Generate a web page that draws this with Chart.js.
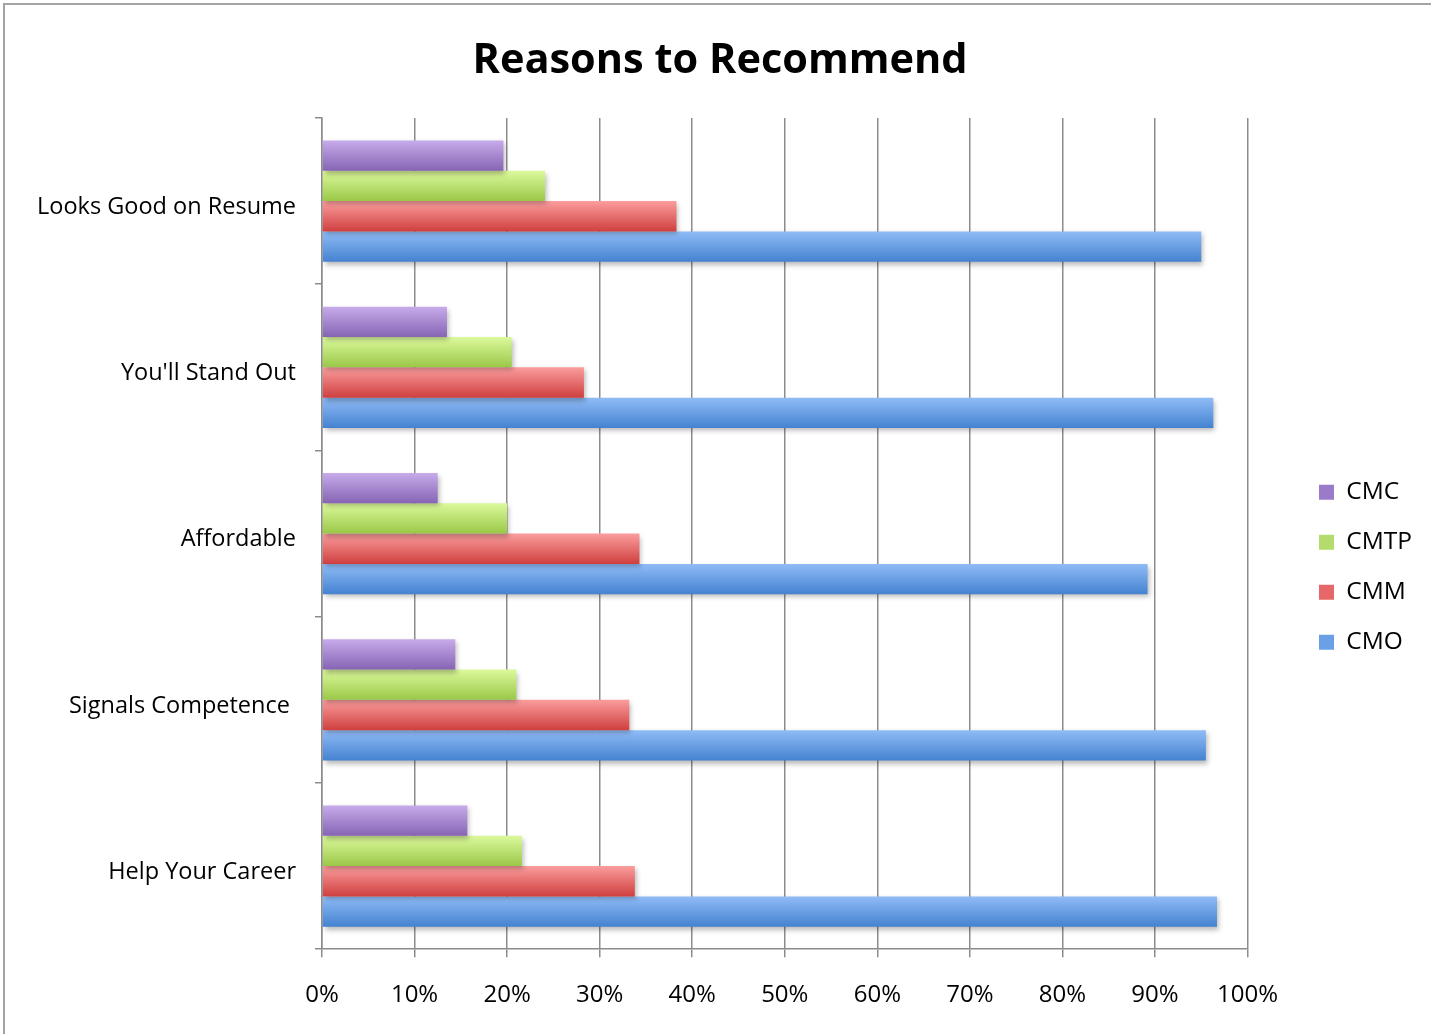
<!DOCTYPE html>
<html lang="en">
<head>
  <meta charset="UTF-8" />
  <title>Reasons to Recommend</title>
  <script src="https://cdn.jsdelivr.net/npm/chart.js"></script>
  <style>
    * { margin: 0; padding: 0; box-sizing: border-box; }
    body { background: #fff; width: 1431px; height: 1034px; overflow: hidden; position: relative; }
    .frame {
      position: absolute; left: 3px; top: 3px; right: 0; bottom: 0;
      border-top: 2px solid #a3a3a3; border-left: 2px solid #a3a3a3;
    }
    #chartBox { position: absolute; left: 0; top: 0; width: 1431px; height: 1034px; }
  </style>
</head>
<body>
  <div class="frame"></div>
  <div id="chartBox"><canvas id="reasonsChart"></canvas></div>

  <script>
    const categories = ['Looks Good on Resume', "You'll Stand Out", 'Affordable', 'Signals Competence ', 'Help Your Career'];
    const cmc  = [19.6, 13.5, 12.5, 14.4, 15.7];
    const cmtp = [24.1, 20.5, 20.0, 21.0, 21.6];
    const cmm  = [38.3, 28.3, 34.3, 33.2, 33.8];
    const cmo  = [95.0, 96.3, 89.2, 95.5, 96.7];
    const xTicks = [0, 10, 20, 30, 40, 50, 60, 70, 80, 90, 100];

    const font = "'Open Sans', 'DejaVu Sans', sans-serif";
    const axisGray = '#8c8c8c';
    const padR = 55;

    // top/bottom colours for each bar's gradient, plus a flat one for the legend
    const shades = {
      CMC:  ['#c7abea', '#8664b4', '#9b7bc9'],
      CMTP: ['#dcf99c', '#9ac848', '#b3dc6c'],
      CMM:  ['#fb9d9d', '#cf3f3f', '#e56767'],
      CMO:  ['#90bcf7', '#4482d0', '#6aa0e6']
    };

    const barLook = {
      id: 'barLook',
      afterLayout(chart) {
        // legend sits a bit further right and lower than Chart.js puts it
        const lg = chart.legend;
        const w = lg.right - lg.left, h = lg.bottom - lg.top;
        lg.left = 1319 - lg.options.labels.padding;
        lg.right = lg.left + w;
        lg.top = 480 - lg.options.labels.padding;
        lg.bottom = lg.top + h;
        // title is centred on the page, not on the plot
        const tb = chart.titleBlock;
        const d = 720 - (tb.left + tb.right) / 2;
        tb.left += d;
        tb.right += d;
      },
      // paint each bar with a vertical gradient + soft shadow
      beforeDatasetsDraw(chart) {
        const c = chart.ctx;
        chart.data.datasets.forEach((ds, i) => {
          const s = shades[ds.label];
          chart.getDatasetMeta(i).data.forEach(bar => {
            const top = bar.y - bar.height / 2;
            const g = c.createLinearGradient(0, top, 0, top + bar.height);
            g.addColorStop(0, s[0]);
            g.addColorStop(1, s[1]);
            bar.options.backgroundColor = g;
          });
        });
        c.save();
        c.shadowColor = 'rgba(0,0,0,0.28)';
        c.shadowBlur = 5;
        c.shadowOffsetX = 2;
        c.shadowOffsetY = 3;
      },
      afterDatasetsDraw(chart) {
        chart.ctx.restore();
      }
    };

    const makeSet = (label, values) => ({
      label,
      data: values,
      backgroundColor: () => shades[label][2],
      borderWidth: 0,
      categoryPercentage: 0.73,
      barPercentage: 1.0
    });

    new Chart(document.getElementById('reasonsChart'), {
      type: 'bar',
      data: {
        labels: categories,
        datasets: [makeSet('CMC', cmc), makeSet('CMTP', cmtp), makeSet('CMM', cmm), makeSet('CMO', cmo)]
      },
      plugins: [barLook],
      options: {
        indexAxis: 'y',
        responsive: true,
        maintainAspectRatio: false,
        animation: false,
        layout: { padding: { left: 0, right: padR, top: 26, bottom: 0 } },
        plugins: {
          title: {
            display: true,
            text: 'Reasons to Recommend',
            color: '#000',
            font: { family: font, size: 41.5, weight: 'bold', lineHeight: 1.2 },
            padding: { top: 10, bottom: 32.2 }
          },
          legend: {
            position: 'right',
            align: 'start',
            labels: {
              color: '#000',
              font: { family: font, size: 24.5 },
              boxWidth: 15,
              boxHeight: 15,
              padding: 25.5,
              generateLabels(chart) {
                return chart.data.datasets.map((ds, i) => ({
                  text: ds.label,
                  fillStyle: shades[ds.label][2],
                  strokeStyle: shades[ds.label][2],
                  lineWidth: 0,
                  datasetIndex: i
                }));
              }
            }
          },
          tooltip: { enabled: false }
        },
        scales: {
          x: {
            min: 0,
            max: 100,
            afterBuildTicks: scale => { scale.ticks = xTicks.map(v => ({ value: v })); },
            ticks: {
              color: '#000',
              font: { family: font, size: 24 },
              padding: 24,
              callback: v => v + '%'
            },
            grid: { color: axisGray, lineWidth: 1.5, tickLength: 8 },
            border: { color: axisGray, width: 1.5 }
          },
          y: {
            afterFit: scale => { scale.width = 322; },
            ticks: {
              color: '#000',
              font: { family: font, size: 23.5 },
              padding: 19,
              labelOffset: 6
            },
            grid: { drawOnChartArea: false, color: axisGray, lineWidth: 1.5, tickLength: 7 },
            border: { color: axisGray, width: 1.5 }
          }
        }
      }
    });
  </script>
</body>
</html>
